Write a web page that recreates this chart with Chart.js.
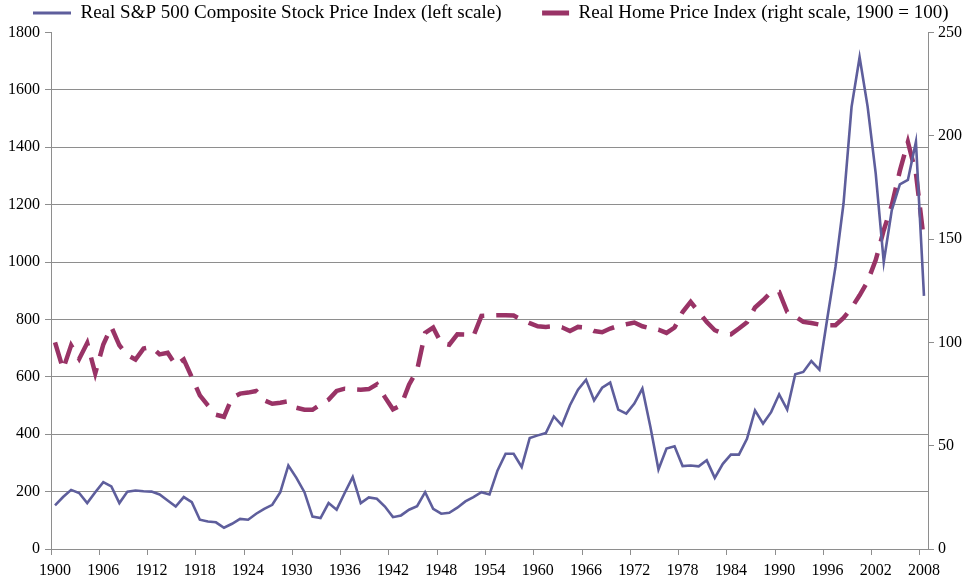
<!DOCTYPE html>
<html>
<head>
<meta charset="utf-8">
<script src="https://cdn.jsdelivr.net/npm/chart.js@4.4.1/dist/chart.umd.min.js"></script>
<style>
html, body { margin: 0; padding: 0; background: #fff; }
#wrap { width: 975px; height: 583px; position: relative; }
</style>
</head>
<body>
<div id="wrap"><canvas id="priceChart"></canvas></div>
<script>
// categories
const years = [
  1900, 1901, 1902, 1903, 1904, 1905, 1906, 1907, 1908, 1909,
  1910, 1911, 1912, 1913, 1914, 1915, 1916, 1917, 1918, 1919,
  1920, 1921, 1922, 1923, 1924, 1925, 1926, 1927, 1928, 1929,
  1930, 1931, 1932, 1933, 1934, 1935, 1936, 1937, 1938, 1939,
  1940, 1941, 1942, 1943, 1944, 1945, 1946, 1947, 1948, 1949,
  1950, 1951, 1952, 1953, 1954, 1955, 1956, 1957, 1958, 1959,
  1960, 1961, 1962, 1963, 1964, 1965, 1966, 1967, 1968, 1969,
  1970, 1971, 1972, 1973, 1974, 1975, 1976, 1977, 1978, 1979,
  1980, 1981, 1982, 1983, 1984, 1985, 1986, 1987, 1988, 1989,
  1990, 1991, 1992, 1993, 1994, 1995, 1996, 1997, 1998, 1999,
  2000, 2001, 2002, 2003, 2004, 2005, 2006, 2007, 2008
];

// Real S&P 500 composite (left scale)
const stockIndex = [
  152, 181, 206, 195, 160, 198, 233, 218, 160, 200,
  204, 201, 200, 190, 169, 148, 181, 163, 102, 96,
  93, 74, 88, 105, 102, 123, 140, 154, 198, 291,
  248, 198, 113, 108, 160, 137, 195, 251, 160, 180,
  175, 148, 111, 117, 137, 149, 198, 140, 123, 126,
  144, 166, 181, 198, 190, 274, 332, 332, 286, 387,
  396, 404, 462, 431, 501, 555, 590, 518, 562, 580,
  486, 472, 507, 559, 425, 277, 350, 358, 289, 291,
  288, 309, 248, 297, 329, 329, 384, 483, 437, 477,
  539, 486, 609, 617, 655, 625, 807, 983, 1204, 1541,
  1714, 1541, 1309, 1000, 1181, 1271, 1286, 1419, 882
];

// Real home price index, 1900 = 100 (right scale)
const homeIndex = [
  100, 87, 98.6, 92, 99.7, 85, 99, 107.5, 98.6, 93.8,
  91.7, 97, 97.8, 94.2, 95, 88.9, 91.7, 83.2, 74.4, 69.5,
  65, 64, 73.2, 75.2, 75.7, 76.5, 72, 70.3, 70.8, 71.5,
  68.4, 67.4, 67.4, 70, 72.3, 76.5, 77.6, 77.3, 77.1, 77.4,
  79.7, 73.5, 67.6, 69.5, 79.5, 86.5, 104.6, 107.2, 99.7, 98.9,
  103.9, 103.8, 103, 112.8, 113, 113.1, 113.1, 113, 111, 109.3,
  107.8, 107.5, 107.8, 107.3, 105.5, 107.5, 107.2, 105.5, 104.9, 106.7,
  108, 108.8, 109.6, 107.8, 106.8, 106.2, 104.6, 107.2, 114.7, 119.6,
  114.7, 109.9, 105.9, 104.3, 103.9, 106.7, 109.7, 116.9, 120.4, 124.4,
  124.4, 114.7, 112.6, 109.9, 109.4, 108.6, 108.3, 108.3, 111.8, 116.7,
  122.8, 129.6, 139.8, 154.3, 166.4, 183, 197, 181.8, 149
];

// tick labels
const xTickLabels = [1900, 1906, 1912, 1918, 1924, 1930, 1936, 1942, 1948, 1954,
  1960, 1966, 1972, 1978, 1984, 1990, 1996, 2002, 2008];
const leftTicks = [0, 200, 400, 600, 800, 1000, 1200, 1400, 1600, 1800];
const rightTicks = [0, 50, 100, 150, 200, 250];

const seriesNames = [
  'Real S&P 500 Composite Stock Price Index (left scale)',
  'Real Home Price Index (right scale, 1900 = 100)'
];

const blue = '#5e5e9c';
const maroon = '#993366';
const gridGrey = '#8e8e8e';

const legendFont = 19;
const legendGap = 29.5;
const padLeft = 3.5;
const padRight = -20;

Chart.defaults.font.family = "'Liberation Serif', 'Times New Roman', serif";
Chart.defaults.font.size = 16;
Chart.defaults.color = '#000';

const canvas = document.getElementById('priceChart');

new Chart(canvas, {
  type: 'line',
  data: {
    labels: years,
    datasets: [{
      label: seriesNames[0],
      data: stockIndex,
      yAxisID: 'y',
      borderColor: blue,
      backgroundColor: blue,
      borderWidth: 2.6,
      pointRadius: 0,
      tension: 0,
      fill: false
    }, {
      label: seriesNames[1],
      data: homeIndex,
      yAxisID: 'y1',
      borderColor: maroon,
      backgroundColor: maroon,
      borderWidth: 4.5,
      borderDash: [22, 12],
      borderCapStyle: 'butt',
      pointRadius: 0,
      tension: 0,
      fill: false
    }]
  },
  options: {
    responsive: true,
    maintainAspectRatio: false,
    animation: false,
    layout: {
      // legend pulled up/out so plot area lands where the original has it
      padding: { top: 13 - legendGap - legendFont / 2, left: padLeft, right: padRight, bottom: 0 }
    },
    plugins: {
      tooltip: { enabled: false },
      legend: {
        position: 'top',
        align: 'start',
        labels: {
          usePointStyle: true,
          pointStyleWidth: 38,
          padding: legendGap,
          color: '#000',
          font: { size: legendFont },
          generateLabels: chart => chart.data.datasets.map((ds, i) => ({
            text: ds.label,
            fillStyle: ds.borderColor,
            strokeStyle: ds.borderColor,
            fontColor: '#000',
            lineWidth: i ? 5 : 3,
            lineDash: i ? [0, 11, 27, 100] : [],
            pointStyle: 'line',
            hidden: false,
            datasetIndex: i
          }))
        }
      }
    },
    scales: {
      x: {
        type: 'category',
        offset: true,
        afterFit: s => { s.height = 34; },
        border: { color: gridGrey, width: 1 },
        grid: {
          offset: true,
          drawOnChartArea: false,
          tickLength: 6,
          tickColor: ctx => (ctx.tick && xTickLabels.includes(years[ctx.index])) ? gridGrey : 'rgba(0,0,0,0)'
        },
        ticks: {
          autoSkip: false,
          maxRotation: 0,
          padding: 6,
          callback: (v, i) => xTickLabels.includes(years[i]) ? String(years[i]) : ''
        }
      },
      y: {
        position: 'left',
        min: leftTicks[0],
        max: leftTicks[leftTicks.length - 1],
        afterBuildTicks: s => { s.ticks = leftTicks.map(v => ({ value: v })); },
        afterFit: s => { s.width = 51 - padLeft; },
        border: { color: gridGrey, width: 1 },
        grid: {
          color: ctx => (ctx.tick && ctx.tick.value === leftTicks[leftTicks.length - 1]) ? 'rgba(0,0,0,0)' : gridGrey,
          tickColor: gridGrey,
          tickLength: 6,
          lineWidth: 1
        },
        ticks: { padding: 5, callback: v => String(v) }
      },
      y1: {
        position: 'right',
        min: rightTicks[0],
        max: rightTicks[rightTicks.length - 1],
        afterBuildTicks: s => { s.ticks = rightTicks.map(v => ({ value: v })); },
        afterFit: s => { s.width = 47 - padRight; },
        border: { color: gridGrey, width: 1 },
        grid: {
          drawOnChartArea: false,
          tickColor: gridGrey,
          tickLength: 6
        },
        ticks: { padding: 4, callback: v => String(v) }
      }
    }
  }
});
</script>
</body>
</html>
